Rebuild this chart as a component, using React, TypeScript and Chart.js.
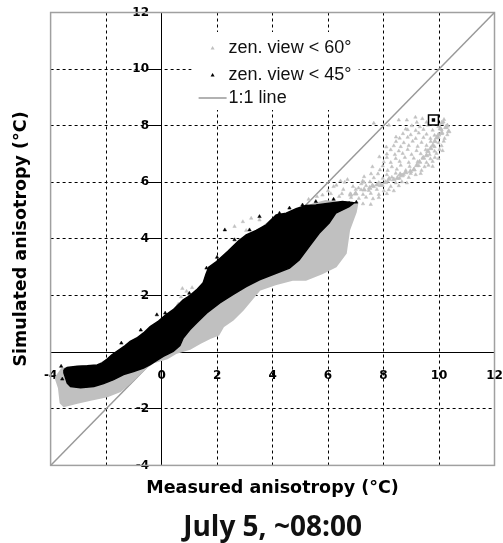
import React, { useEffect, useRef } from 'react';
import { Chart, registerables } from 'chart.js';

Chart.register(...registerables);

// ---------- data ----------
const axisMin = -4;
const axisMax = 12;
const xTicks = [-4, -2, 0, 2, 4, 6, 8, 10, 12];
const yTicks = [-4, -2, 0, 2, 4, 6, 8, 10, 12];

const seriesLabels = ['zen. view < 60°', 'zen. view < 45°', '1:1 line'];
const xTitleText = 'Measured anisotropy (°C)';
const yTitleText = 'Simulated anisotropy (°C)';
const chartTitleText = 'July 5, ~08:00';

const oneToOneLine: [number, number][] = [[-4, -4], [12, 12]];

// outline of the dense part of the zen. view < 60° cloud
const grayCloudOutline: [number, number][] = [
  [-3.82, -0.91], [-3.6, -0.6], [-3.4, -0.56], [-3.04, -0.52], [-2.68, -0.5], [-2.32, -0.47],
  [-1.96, -0.27], [-1.61, 0.0], [-1.13, 0.35], [-0.65, 0.65], [-0.11, 0.94], [0.42, 1.29],
  [0.84, 1.75], [1.26, 2.1], [1.62, 2.6], [1.98, 3.15], [2.46, 3.45], [2.81, 3.98], [3.41, 4.22],
  [3.77, 4.52], [4.13, 4.8], [4.85, 4.93], [5.44, 5.22], [5.92, 5.34], [6.4, 5.28], [6.87, 5.28],
  [7.05, 5.22], [7.0, 4.95], [6.76, 4.32], [6.64, 3.5], [6.28, 3.03], [5.8, 2.79], [5.2, 2.56],
  [4.72, 2.56], [4.1, 2.4], [3.53, 2.2], [2.93, 1.5], [2.57, 1.15], [2.22, 0.91], [2.05, 0.62],
  [1.74, 0.5], [1.38, 0.32], [1.02, 0.12], [0.54, -0.02], [0.2, -0.22],
  [-0.29, -0.36], [-0.53, -0.52], [-0.77, -0.74], [-1.13, -1.08], [-1.49, -1.38], [-1.96, -1.56],
  [-2.56, -1.68], [-3.04, -1.79], [-3.52, -1.91], [-3.64, -1.79], [-3.7, -1.26], [-3.82, -0.91],
];

// outline of the zen. view < 45° cloud
const blackCloudOutline: [number, number][] = [
  [-3.52, -0.62], [-3.4, -0.54], [-3.04, -0.5], [-2.68, -0.48], [-2.32, -0.45], [-2.14, -0.38],
  [-1.96, -0.24], [-1.79, -0.09], [-1.61, 0.03], [-1.31, 0.23], [-1.13, 0.38], [-0.89, 0.5],
  [-0.65, 0.68], [-0.41, 0.9], [-0.11, 1.1], [0.13, 1.3], [0.42, 1.5], [0.78, 1.85],
  [1.02, 2.0], [1.26, 2.2], [1.5, 2.45], [1.6, 2.75], [1.7, 3.0], [1.98, 3.2],
  [2.39, 3.56], [2.75, 3.91], [3.05, 4.14], [3.41, 4.3], [3.77, 4.5], [4.13, 4.85], [4.49, 4.91],
  [4.85, 5.07], [5.2, 5.18], [5.56, 5.2], [6.04, 5.26], [6.52, 5.32], [6.94, 5.28],
  [6.76, 5.14], [6.28, 4.91], [6.04, 4.56], [5.68, 4.2], [5.32, 3.73], [4.96, 3.26],
  [4.61, 2.97], [4.13, 2.79], [3.53, 2.56], [3.05, 2.32], [2.57, 2.03], [2.1, 1.74], [1.62, 1.38],
  [1.26, 1.03], [1.02, 0.79], [0.78, 0.5], [0.66, 0.23],
  [0.42, 0.03], [0.06, -0.15], [-0.17, -0.29], [-0.41, -0.44], [-0.65, -0.56], [-1.01, -0.68],
  [-1.37, -0.79], [-1.73, -0.97], [-2.09, -1.11], [-2.44, -1.21], [-2.92, -1.26], [-3.28, -1.21],
  [-3.4, -1.09], [-3.52, -0.73], [-3.52, -0.62],
];

// scattered zen. view < 60° points (sparse crescent and fringes)
const graySparsePoints: [number, number][] = [
  [9.4, 8.25], [10.18, 8.22], [9.15, 8.3], [8.84, 8.2], [8.55, 8.2], [8.19, 8.02], [7.65, 8.09],
  [9.55, 8.12], [10.16, 8.13], [9.2, 8.12],
  [9.02, 8.0], [9.31, 7.96], [9.6, 8.02], [9.98, 7.97], [10.24, 7.93], [8.8, 7.88],
  [8.87, 7.86], [9.16, 7.83], [9.44, 7.87], [9.77, 7.84], [10.09, 7.86],
  [8.7, 7.72], [8.98, 7.68], [9.27, 7.74], [9.55, 7.7], [9.84, 7.66], [10.1, 7.72], [10.3, 7.68], [8.45, 7.6],
  [8.58, 7.56], [8.87, 7.59], [9.16, 7.55], [9.44, 7.58], [9.69, 7.55], [9.98, 7.58], [10.2, 7.55],
  [8.45, 7.44], [8.73, 7.4], [9.05, 7.45], [9.37, 7.41], [9.7, 7.44], [9.98, 7.4], [10.17, 7.45], [8.1, 7.25],
  [8.37, 7.29], [8.62, 7.26], [8.91, 7.3], [9.23, 7.27], [9.55, 7.3], [9.84, 7.26], [10.09, 7.29],
  [8.26, 7.15], [8.55, 7.11], [8.87, 7.16], [9.19, 7.12], [9.52, 7.15], [9.84, 7.1], [10.02, 7.16], [10.13, 7.12],
  [8.12, 7.0], [8.41, 6.98], [8.69, 7.02], [9.01, 6.98], [9.34, 7.01], [9.66, 6.98], [9.91, 7.02],
  [7.85, 6.9], [8.12, 6.88], [8.44, 6.84], [8.77, 6.88], [9.09, 6.85], [9.41, 6.87], [9.69, 6.83], [9.85, 6.88], [9.98, 6.84],
  [8.01, 6.72], [8.26, 6.7], [8.58, 6.74], [8.91, 6.7], [9.23, 6.73], [9.55, 6.7], [9.77, 6.74],
  [7.6, 6.55], [7.97, 6.58], [8.3, 6.55], [8.62, 6.6], [8.94, 6.56], [9.27, 6.59], [9.48, 6.55], [9.62, 6.6], [9.77, 6.56],
  [7.87, 6.44], [8.15, 6.42], [8.48, 6.46], [8.8, 6.42], [9.09, 6.45], [9.37, 6.42],
  [7.3, 6.2], [7.55, 6.3], [7.8, 6.3], [8.12, 6.27], [8.44, 6.32], [8.73, 6.28], [8.98, 6.31], [9.16, 6.27], [9.34, 6.31],
  [7.65, 6.16], [7.97, 6.14], [8.3, 6.18], [8.58, 6.14], [8.91, 6.17],
  [7.25, 6.05], [7.51, 6.02], [7.83, 5.99], [8.15, 6.03], [8.44, 5.98], [8.66, 6.02], [8.84, 5.98],
  [7.37, 5.88], [7.65, 5.85], [7.97, 5.89], [8.26, 5.85], [8.55, 5.88],
  [7.0, 5.75], [7.19, 5.74], [7.47, 5.71], [7.76, 5.75], [8.01, 5.7], [8.19, 5.74], [8.37, 5.7],
  [6.97, 5.6], [7.26, 5.57], [7.54, 5.61], [7.83, 5.57], [8.12, 5.6],
  [6.83, 5.46], [7.11, 5.43], [7.37, 5.47], [7.62, 5.42], [7.83, 5.46], [7.26, 5.24], [7.54, 5.22],
  [5.3, 5.4], [5.6, 5.5], [6.0, 5.7], [6.2, 5.85], [6.45, 6.05], [6.7, 6.1], [6.55, 5.75], [6.8, 5.6],
  [7.1, 5.8], [7.3, 6.0], [6.4, 5.5], [6.3, 5.9], [6.6, 6.0], [6.9, 5.85], [7.2, 5.95], [6.5, 5.6],
  [7.0, 5.6], [6.1, 5.6], [5.8, 5.55],
  [2.63, 4.44], [2.93, 4.61], [3.23, 4.73], [3.53, 4.67], [3.05, 4.3], [0.7, 1.95], [0.9, 2.15],
  [0.75, 2.25], [0.6, 1.7], [0.55, 1.6], [1.1, 2.28],
];

// denser band on the lower-right side of the crescent
const grayBandPoints: [number, number][] = [
  [6.82, 5.56], [7.3, 5.74], [7.77, 5.92], [8.07, 6.0], [8.37, 6.1], [8.67, 6.24], [8.97, 6.39],
  [9.2, 6.6], [9.44, 6.86], [9.7, 7.2], [9.85, 7.45], [9.98, 7.68], [10.05, 7.9], [7.0, 5.6],
  [7.5, 5.8], [7.9, 5.9], [8.2, 6.12], [8.5, 6.15], [8.8, 6.35], [9.1, 6.45], [9.3, 6.72],
  [9.55, 6.95], [9.78, 7.3], [9.92, 7.58], [7.6, 5.88], [8.6, 6.28], [9.6, 7.1], [10.1, 7.75],
  [10.1, 8.1], [10.25, 7.95], [10.35, 7.8], [10.3, 8.0],
];

// isolated zen. view < 45° points near the cloud edge
const blackEdgePoints: [number, number][] = [
  [-3.62, -0.5], [-3.58, -0.95], [1.62, 2.97], [2.28, 4.32], [2.63, 3.97], [3.17, 4.32], [3.53, 4.79],
  [4.25, 4.91], [4.61, 5.09], [5.08, 5.2], [5.56, 5.32], [6.2, 5.4], [6.76, 5.26], [7.02, 5.3],
  [0.13, 1.38], [-0.17, 1.32], [-0.75, 0.78], [-1.45, 0.32], [1.0, 2.08], [2.0, 3.35],
];

const highlightedPoint: [number, number][] = [[9.8, 8.2]];

// ---------- styles ----------
const GRAY = '#c0c0c0';
const toXY = (arr: [number, number][]) => arr.map(([x, y]) => ({ x, y }));

const frameAndLegend = {
  id: 'frameAndLegend',
  beforeDatasetsDraw(chart: any) {
    const { ctx, chartArea: a } = chart;
    ctx.save();
    ctx.strokeStyle = '#a0a0a0';
    ctx.lineWidth = 1.5;
    ctx.strokeRect(a.left, a.top, a.right - a.left, a.bottom - a.top);
    ctx.restore();
  },
  afterDatasetsDraw(chart: any) {
    const { ctx, chartArea: a } = chart;
    const bx = a.left + 141;
    const by = a.top + 19.5;
    ctx.save();
    ctx.fillStyle = '#ffffff';
    ctx.fillRect(bx, by, 167, 78);
    ctx.font = '18px "Liberation Sans", Arial, sans-serif';
    ctx.textBaseline = 'middle';
    ctx.textAlign = 'left';
    const rows = [by + 16, by + 43, by + 66];
    const tri = (cx: number, cy: number, color: string) => {
      ctx.fillStyle = color;
      ctx.beginPath();
      ctx.moveTo(cx, cy - 2);
      ctx.lineTo(cx + 2, cy + 1.5);
      ctx.lineTo(cx - 2, cy + 1.5);
      ctx.closePath();
      ctx.fill();
    };
    tri(bx + 21, rows[0], GRAY);
    tri(bx + 21, rows[1], '#000');
    ctx.strokeStyle = '#999999';
    ctx.lineWidth = 1.5;
    ctx.beginPath();
    ctx.moveTo(bx + 7, rows[2]);
    ctx.lineTo(bx + 35, rows[2]);
    ctx.stroke();
    ctx.fillStyle = '#111';
    seriesLabels.forEach((t, i) => ctx.fillText(t, bx + 37, rows[i]));
    ctx.restore();
  },
};

const tickFont = { family: 'DejaVu Sans', weight: 'bold' as const, size: 12 };
const titleFont = { family: 'DejaVu Sans', weight: 'bold' as const, size: 17.5, lineHeight: 1.2 };

export default function App() {
  const ref = useRef<HTMLCanvasElement>(null);
  useEffect(() => {
    document.body.style.margin = '0';
    Chart.defaults.font.family = 'DejaVu Sans';
    const gridColor = (c: any) =>
      c.tick && (c.tick.value === axisMin || c.tick.value === axisMax) ? 'rgba(0,0,0,0)' : '#000';
    const dash = (c: any) => (c.tick && c.tick.value !== 0 ? [3, 3] : []);
    const chart = new Chart(ref.current as HTMLCanvasElement, {
      type: 'scatter',
      data: {
        datasets: [
          {
            label: seriesLabels[2], data: toXY(oneToOneLine), showLine: true, borderColor: '#999999',
            borderWidth: 1.5, pointRadius: 0, order: 10, xAxisID: 'x', yAxisID: 'y',
          },
          {
            label: seriesLabels[0], data: toXY(grayCloudOutline), showLine: true, fill: 'shape',
            backgroundColor: GRAY, borderColor: GRAY, borderWidth: 2, pointRadius: 0, order: 9,
            xAxisID: 'x', yAxisID: 'y',
          },
          {
            label: seriesLabels[0], data: toXY(graySparsePoints), pointStyle: 'triangle', pointRadius: 2,
            backgroundColor: GRAY, borderColor: GRAY, borderWidth: 0.5, order: 8, xAxisID: 'x', yAxisID: 'y',
          },
          {
            label: seriesLabels[0], data: toXY(grayBandPoints), pointStyle: 'triangle', pointRadius: 2.6,
            backgroundColor: GRAY, borderColor: GRAY, borderWidth: 0.8, order: 7, xAxisID: 'x', yAxisID: 'y',
          },
          {
            label: seriesLabels[1], data: toXY(blackCloudOutline), showLine: true, fill: 'shape',
            backgroundColor: '#000', borderColor: '#000', borderWidth: 1.5, pointRadius: 0, order: 5,
            xAxisID: 'x', yAxisID: 'y',
          },
          {
            label: seriesLabels[1], data: toXY(blackEdgePoints), pointStyle: 'triangle', pointRadius: 2,
            backgroundColor: '#000', borderColor: '#000', borderWidth: 0.5, order: 4, xAxisID: 'x', yAxisID: 'y',
          },
          {
            label: 'box', data: toXY(highlightedPoint), pointStyle: 'rect', pointRadius: 7,
            backgroundColor: '#fff', borderColor: '#000', borderWidth: 1.5, order: 2, xAxisID: 'x', yAxisID: 'y',
          },
          {
            label: 'dot', data: toXY(highlightedPoint), pointStyle: 'rect', pointRadius: 2.4,
            backgroundColor: '#000', borderColor: '#000', borderWidth: 0, order: 1, xAxisID: 'x', yAxisID: 'y',
          },
        ],
      },
      options: {
        animation: false,
        responsive: false,
        devicePixelRatio: 1,
        layout: { padding: { left: 4, right: 7, top: 12.5, bottom: 0 } },
        plugins: {
          legend: { display: false },
          tooltip: { enabled: false },
          title: {
            display: true, text: chartTitleText, position: 'bottom', color: '#111', fullSize: false,
            font: { family: 'Open Sans', weight: 'bold', size: 28, lineHeight: 1 },
            padding: { top: 10.8, bottom: 1 },
          },
        },
        scales: {
          x: {
            type: 'linear', min: axisMin, max: axisMax, position: { y: 0 } as any,
            afterBuildTicks: (s: any) => { s.ticks = xTicks.map((v) => ({ value: v })); },
            afterFit: (s: any) => { s.paddingLeft = 0; s.paddingRight = 0; },
            grid: { color: gridColor, lineWidth: 1, drawTicks: false },
            border: { display: true, color: '#000', width: 1, dash } as any,
            ticks: { font: tickFont, color: '#000', padding: 16, maxRotation: 0, minRotation: 0, autoSkip: false },
          },
          y: {
            type: 'linear', min: axisMin, max: axisMax, position: { x: 0 } as any,
            afterBuildTicks: (s: any) => { s.ticks = yTicks.map((v) => ({ value: v })); },
            grid: { color: gridColor, lineWidth: 1, drawTicks: true, tickLength: 12, tickColor: '#000', tickBorderDash: [] },
            border: { display: true, color: '#000', width: 1, dash } as any,
            ticks: {
              font: tickFont, color: '#000', padding: 2, autoSkip: false,
              // the axis sits at x = 0, so the labels get a trailing gap to clear the tick marks
              callback: (v: any) => (Number(v) === 0 ? '' : String(v) + '   '),
            },
          },
          yTitle: {
            type: 'linear', axis: 'y', position: 'left', display: true,
            grid: { display: false, drawTicks: false }, border: { display: false },
            ticks: { display: false },
            title: { display: true, text: yTitleText, color: '#000', font: titleFont, padding: { top: 6.8, bottom: 18.8 } },
          },
          xTitle: {
            type: 'linear', axis: 'x', position: 'bottom', display: true,
            grid: { display: false, drawTicks: false }, border: { display: false },
            ticks: { display: false },
            title: { display: true, text: xTitleText, color: '#000', font: titleFont, padding: { top: 12.8, bottom: 4 } },
          },
        },
      },
      plugins: [frameAndLegend],
    } as any);
    return () => chart.destroy();
  }, []);
  return (
    <div style={{ width: 503, height: 543 }}>
      <canvas ref={ref} width={503} height={543} style={{ display: 'block' }} />
    </div>
  );
}
